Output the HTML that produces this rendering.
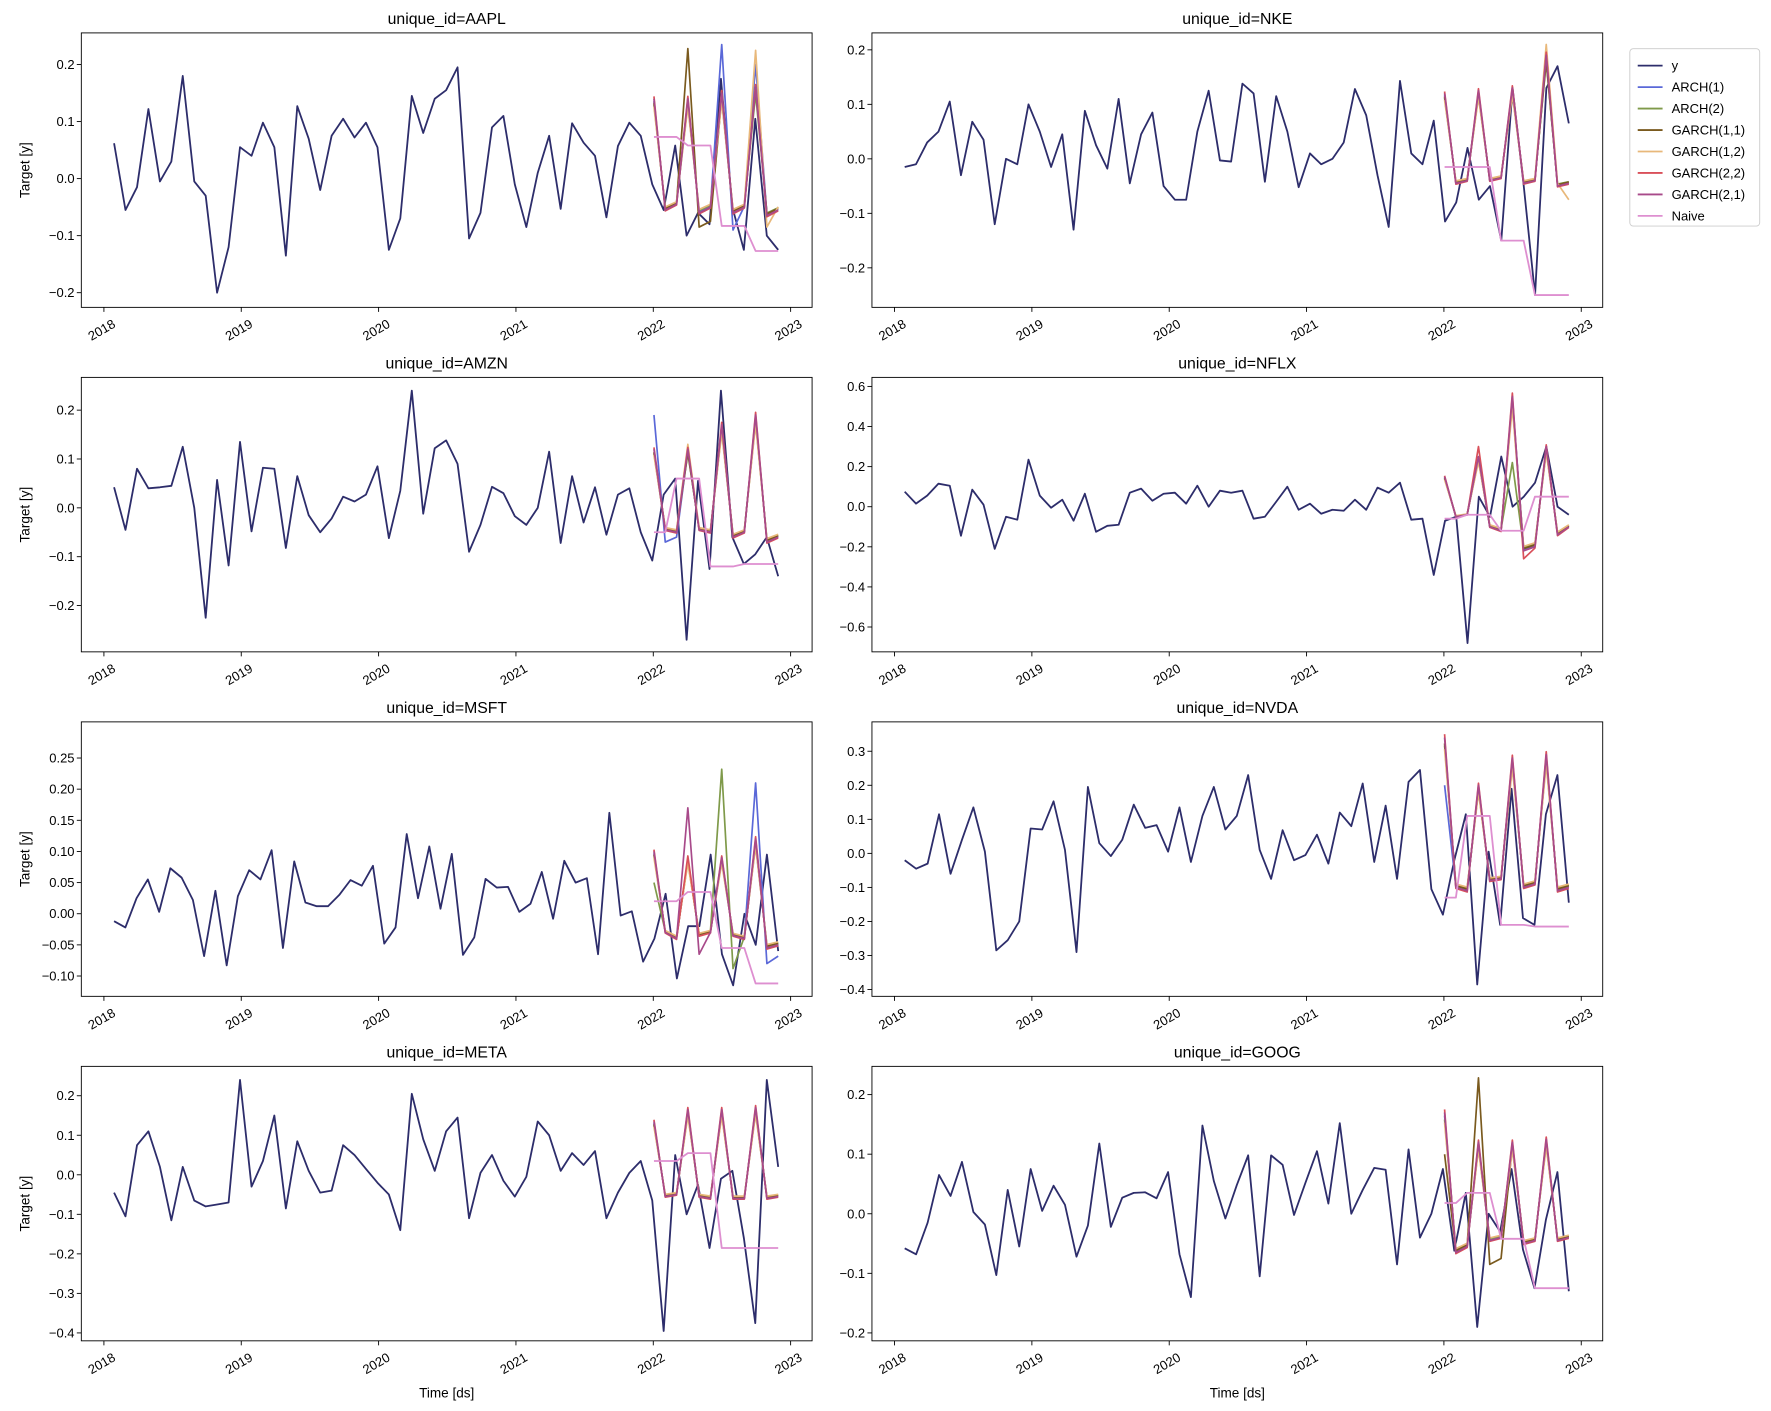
<!DOCTYPE html>
<html><head><meta charset="utf-8"><style>
html,body{margin:0;padding:0;background:#fff;}
svg{display:block;font-family:"Liberation Sans","DejaVu Sans",sans-serif;}
</style></head><body>
<svg id="s" width="1771" height="1411" viewBox="0 0 1568 1249" xmlns="http://www.w3.org/2000/svg"></svg>
<script>
const S=document.getElementById('s');let h='';
const cols={y:'#2d2d6b',a1:'#5a68d8',a2:'#7f9a4a',g11:'#7a5a1e',g12:'#e8b87a',g22:'#d9505a',g21:'#a84a8a',nv:'#de8fd0'};
const P=[
{t:'AAPL',c:0,r:0,top:29,bot:272,v1:0.2,p1:57,v2:-0.2,p2:259,ticks:[-0.2,-0.1,0,0.1,0.2],dec:1,
y:[0.062,-0.055,-0.015,0.122,-0.005,0.03,0.18,-0.005,-0.03,-0.2,-0.12,0.055,0.04,0.098,0.055,-0.135,0.127,0.07,-0.02,0.075,0.105,0.072,0.098,0.055,-0.125,-0.07,0.145,0.08,0.14,0.155,0.195,-0.105,-0.06,0.09,0.11,-0.01,-0.085,0.01,0.075,-0.053,0.097,0.063,0.04,-0.068,0.057,0.098,0.075,-0.01,-0.055,0.058,-0.1,-0.06,-0.08,0.175,-0.05,-0.125,0.105,-0.1,-0.125],
b:[0.14,-0.055,-0.045,0.14,-0.06,-0.05,0.15,-0.06,-0.05,0.16,-0.065,-0.055],
nv:[0.073,0.073,0.073,0.058,0.058,0.058,-0.083,-0.083,-0.083,-0.127,-0.127,-0.127],
ov:{a1:{6:0.235,7:-0.09,9:0.2},g11:{3:0.228,4:-0.085,5:-0.075,9:0.16},g12:{9:0.225,10:-0.085}}},
{t:'NKE',c:1,r:0,top:29,bot:272,v1:0.2,p1:44,v2:-0.2,p2:237,ticks:[-0.2,-0.1,0,0.1,0.2],dec:1,
y:[-0.015,-0.01,0.03,0.05,0.105,-0.03,0.068,0.035,-0.12,0.0,-0.01,0.1,0.05,-0.015,0.045,-0.13,0.088,0.025,-0.018,0.11,-0.045,0.045,0.085,-0.05,-0.075,-0.075,0.05,0.125,-0.003,-0.005,0.138,0.12,-0.042,0.115,0.05,-0.052,0.01,-0.01,0.0,0.03,0.128,0.08,-0.03,-0.125,0.143,0.01,-0.01,0.07,-0.115,-0.08,0.02,-0.075,-0.05,-0.15,0.13,-0.05,-0.25,0.13,0.17,0.065],
b:[0.12,-0.045,-0.04,0.125,-0.04,-0.035,0.13,-0.045,-0.04,0.19,-0.05,-0.045],
nv:[-0.015,-0.015,-0.015,-0.015,-0.015,-0.15,-0.15,-0.15,-0.25,-0.25,-0.25,-0.25],ov:{g12:{9:0.21,11:-0.075}}},
{t:'AMZN',c:0,r:1,top:334,bot:577,v1:0.2,p1:363,v2:-0.2,p2:536,ticks:[-0.2,-0.1,0,0.1,0.2],dec:1,
y:[0.042,-0.045,0.08,0.04,0.042,0.045,0.125,0.0,-0.225,0.057,-0.118,0.135,-0.048,0.082,0.08,-0.082,0.065,-0.015,-0.05,-0.022,0.023,0.013,0.027,0.085,-0.062,0.035,0.24,-0.012,0.122,0.138,0.09,-0.09,-0.035,0.043,0.03,-0.017,-0.035,0.0,0.115,-0.072,0.065,-0.03,0.042,-0.055,0.027,0.04,-0.05,-0.108,0.027,0.06,-0.27,0.055,-0.125,0.24,-0.06,-0.115,-0.095,-0.06,-0.14],
b:[0.12,-0.045,-0.05,0.12,-0.045,-0.05,0.17,-0.06,-0.05,0.19,-0.07,-0.06],
nv:[-0.05,-0.05,0.06,0.06,0.06,-0.12,-0.12,-0.12,-0.115,-0.115,-0.115,-0.115],ov:{a1:{0:0.19,1:-0.07,2:-0.06},g12:{3:0.13}}},
{t:'NFLX',c:1,r:1,top:334,bot:577,v1:0.6,p1:342,v2:-0.6,p2:555,ticks:[-0.6,-0.4,-0.2,0,0.2,0.4,0.6],dec:1,
y:[0.075,0.015,0.055,0.115,0.105,-0.145,0.085,0.01,-0.21,-0.05,-0.065,0.235,0.055,-0.005,0.035,-0.07,0.065,-0.125,-0.095,-0.09,0.07,0.09,0.03,0.065,0.07,0.015,0.105,0.0,0.08,0.07,0.08,-0.06,-0.05,0.025,0.1,-0.015,0.015,-0.035,-0.015,-0.02,0.035,-0.015,0.095,0.07,0.12,-0.065,-0.06,-0.34,-0.07,-0.05,-0.68,0.05,-0.05,0.25,0.0,0.05,0.12,0.3,0.0,-0.04],
b:[0.15,-0.05,-0.04,0.25,-0.1,-0.12,0.55,-0.22,-0.2,0.3,-0.14,-0.1],
nv:[-0.06,-0.06,-0.04,-0.04,-0.04,-0.12,-0.12,-0.12,0.05,0.05,0.05,0.05],ov:{g22:{3:0.3,7:-0.26},a2:{6:0.22}}},
{t:'MSFT',c:0,r:2,top:639,bot:882,v1:0.25,p1:671,v2:-0.1,p2:864,ticks:[-0.1,-0.05,0,0.05,0.1,0.15,0.2,0.25],dec:2,
y:[-0.012,-0.022,0.025,0.055,0.003,0.073,0.058,0.022,-0.068,0.037,-0.083,0.028,0.07,0.055,0.102,-0.055,0.084,0.018,0.012,0.012,0.03,0.054,0.045,0.077,-0.048,-0.022,0.128,0.025,0.108,0.008,0.096,-0.066,-0.038,0.056,0.042,0.043,0.003,0.016,0.067,-0.008,0.085,0.05,0.057,-0.065,0.162,-0.003,0.004,-0.077,-0.04,0.032,-0.104,-0.02,-0.02,0.095,-0.065,-0.115,0.0,-0.05,0.095,-0.06],
b:[0.1,-0.03,-0.04,0.09,-0.035,-0.03,0.09,-0.035,-0.04,0.12,-0.055,-0.05],
nv:[0.02,0.02,0.02,0.035,0.035,0.035,-0.055,-0.055,-0.055,-0.112,-0.112,-0.112],ov:{a2:{0:0.05,6:0.232,7:-0.088},a1:{9:0.21,10:-0.08,11:-0.068},g21:{3:0.17,4:-0.065}}},
{t:'NVDA',c:1,r:2,top:639,bot:882,v1:0.3,p1:665,v2:-0.4,p2:876,ticks:[-0.4,-0.3,-0.2,-0.1,0,0.1,0.2,0.3],dec:1,
y:[-0.02,-0.045,-0.03,0.115,-0.06,0.04,0.135,0.005,-0.285,-0.255,-0.2,0.073,0.07,0.153,0.01,-0.29,0.195,0.03,-0.008,0.04,0.143,0.075,0.083,0.005,0.135,-0.025,0.11,0.195,0.07,0.11,0.23,0.01,-0.075,0.068,-0.02,-0.005,0.055,-0.03,0.12,0.08,0.205,-0.025,0.14,-0.075,0.21,0.245,-0.105,-0.18,-0.02,0.115,-0.385,0.005,-0.21,0.19,-0.19,-0.21,0.115,0.23,-0.145],
b:[0.34,-0.1,-0.11,0.2,-0.08,-0.075,0.28,-0.1,-0.09,0.29,-0.11,-0.1],
nv:[-0.13,-0.13,0.11,0.11,0.11,-0.21,-0.21,-0.21,-0.215,-0.215,-0.215,-0.215],ov:{a1:{0:0.2}}},
{t:'META',c:0,r:3,top:944,bot:1187,v1:0.2,p1:970,v2:-0.4,p2:1180,ticks:[-0.4,-0.3,-0.2,-0.1,0,0.1,0.2],dec:1,
y:[-0.045,-0.105,0.075,0.11,0.02,-0.115,0.02,-0.065,-0.08,-0.075,-0.07,0.24,-0.03,0.035,0.15,-0.085,0.085,0.01,-0.045,-0.04,0.075,0.05,0.015,-0.02,-0.05,-0.14,0.205,0.09,0.01,0.11,0.145,-0.11,0.005,0.05,-0.015,-0.055,-0.005,0.135,0.1,0.01,0.055,0.025,0.06,-0.11,-0.045,0.005,0.035,-0.065,-0.395,0.05,-0.1,-0.025,-0.185,-0.01,0.01,-0.16,-0.375,0.24,0.02],
b:[0.135,-0.055,-0.05,0.165,-0.055,-0.06,0.165,-0.06,-0.06,0.17,-0.06,-0.055],
nv:[0.035,0.035,0.035,0.055,0.055,0.055,-0.185,-0.185,-0.185,-0.185,-0.185,-0.185],ov:{}},
{t:'GOOG',c:1,r:3,top:944,bot:1187,v1:0.2,p1:969,v2:-0.2,p2:1180,ticks:[-0.2,-0.1,0,0.1,0.2],dec:1,
y:[-0.058,-0.068,-0.015,0.065,0.03,0.087,0.003,-0.018,-0.103,0.04,-0.055,0.075,0.005,0.047,0.015,-0.072,-0.02,0.118,-0.022,0.027,0.035,0.036,0.026,0.07,-0.068,-0.14,0.148,0.055,-0.008,0.048,0.098,-0.105,0.098,0.082,-0.002,0.052,0.105,0.017,0.152,0.0,0.04,0.077,0.074,-0.085,0.108,-0.04,0.0,0.075,-0.062,0.035,-0.19,0.0,-0.03,0.075,-0.06,-0.125,-0.01,0.07,-0.13],
b:[0.17,-0.065,-0.055,0.12,-0.045,-0.04,0.12,-0.05,-0.045,0.125,-0.045,-0.04],
nv:[0.018,0.018,0.035,0.035,0.035,-0.042,-0.042,-0.042,-0.125,-0.125,-0.125,-0.125],ov:{g11:{0:0.1,3:0.228,4:-0.085,5:-0.075}}}
];
const fac={a1:0.97,a2:0.93,g11:0.95,g12:0.9,g22:1.03,g21:1.0};
function fmt(v,d){let s=Math.abs(v).toFixed(d);return (v<-1e-9?'\u2212':'')+s;}
P.forEach(p=>{
 const ox=p.c*700, L=72+ox, R=719+ox;
 const Y=v=>p.p1+(v-p.v1)*(p.p2-p.p1)/(p.v2-p.v1);
 const X0=101+ox, X1=689+ox;
 h+=`<text x="${(L+R)/2}" y="${p.top-8}" font-size="14" text-anchor="middle" fill="#000">unique_id=${p.t}</text>`;
 p.ticks.forEach(t=>{const y=Y(t);h+=`<line x1="${L-4}" y1="${y}" x2="${L}" y2="${y}" stroke="#000" stroke-width="0.8"/><text x="${L-6}" y="${y+4}" font-size="11.5" text-anchor="end">${fmt(t,p.dec)}</text>`;});
 for(let k=0;k<6;k++){const x=92+ox+k*121.6;h+=`<line x1="${x}" y1="${p.bot}" x2="${x}" y2="${p.bot+4}" stroke="#000" stroke-width="0.8"/><text transform="translate(${x+11},${p.bot+17}) rotate(-30)" font-size="11.5" text-anchor="end">${2018+k}</text>`;}
 if(p.c==0) h+=`<text transform="translate(26,${(p.top+p.bot)/2}) rotate(-90)" font-size="12" text-anchor="middle">Target [y]</text>`;
 if(p.r==3) h+=`<text x="${(L+R)/2}" y="1237" font-size="12" text-anchor="middle">Time [ds]</text>`;
 const line=(arr,x0,x1,col,w)=>{const n=arr.length;let pts=arr.map((v,i)=>`${(x0+i*(x1-x0)/(n-1)).toFixed(1)},${Y(v).toFixed(1)}`).join(' ');h+=`<polyline points="${pts}" fill="none" stroke="${col}" stroke-width="${w}" stroke-linejoin="round"/>`;};
 h+=`<clipPath id="c${p.t}"><rect x="${L}" y="${p.top}" width="${R-L}" height="${p.bot-p.top}"/></clipPath><g clip-path="url(#c${p.t})">`;
 line(p.y,X0,X1,cols.y,1.6);
 const F0=579+ox;
 ['a1','a2','g11','g12','g22','g21'].forEach(m=>{const o=p.ov[m]||{};const arr=p.b.map((v,i)=>o[i]!==undefined?o[i]:v*fac[m]);line(arr,F0,X1,cols[m],1.5);});
 line(p.nv,F0,X1,cols.nv,1.6);
 h+='</g>';
 h+=`<rect x="${L}" y="${p.top}" width="${R-L}" height="${p.bot-p.top}" fill="none" stroke="#000" stroke-width="0.8"/>`;
});
const leg=[['y','y'],['ARCH(1)','a1'],['ARCH(2)','a2'],['GARCH(1,1)','g11'],['GARCH(1,2)','g12'],['GARCH(2,2)','g22'],['GARCH(2,1)','g21'],['Naive','nv']];
h+=`<rect x="1443" y="43" width="115" height="157" rx="3" fill="#fff" stroke="#ccc" stroke-width="0.8"/>`;
leg.forEach((e,i)=>{const y=58+i*19;h+=`<line x1="1450" y1="${y}" x2="1472" y2="${y}" stroke="${cols[e[1]]}" stroke-width="1.6"/><text x="1480" y="${y+4}" font-size="11.5">${e[0]}</text>`;});
S.innerHTML=h;
</script>
</body></html>
